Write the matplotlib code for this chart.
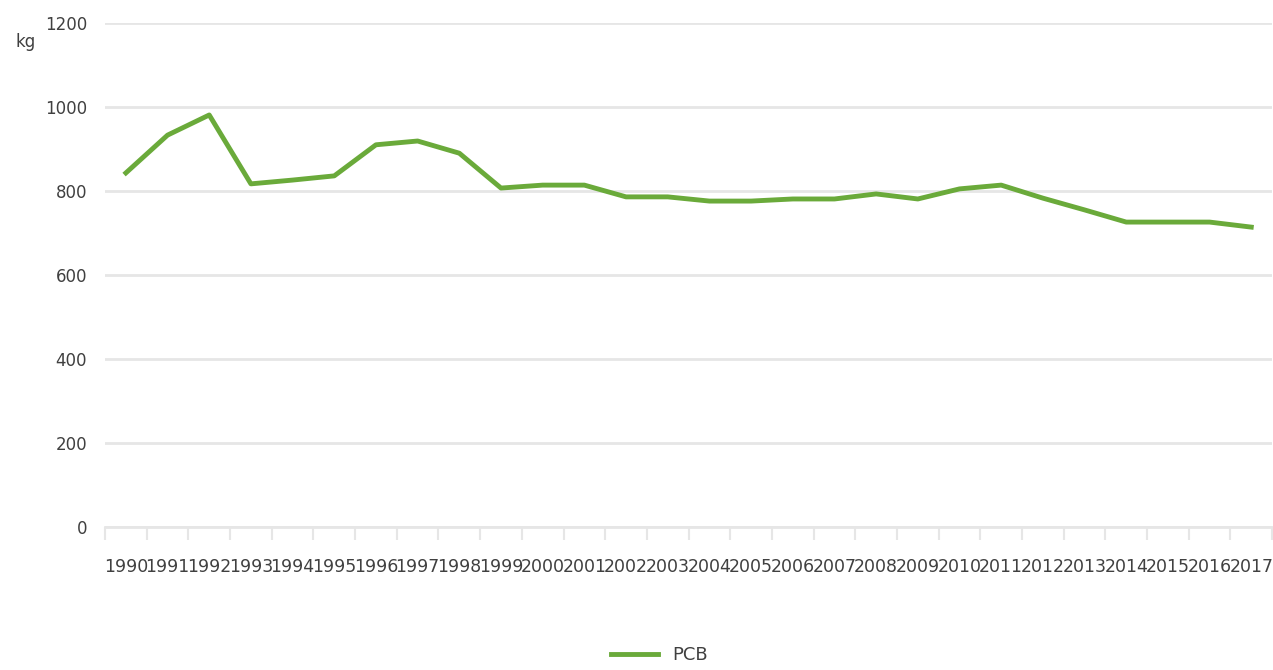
import matplotlib
matplotlib.use("Agg")
import matplotlib.pyplot as plt
from matplotlib.ticker import FixedLocator, NullFormatter

# PCB emissions, kg
years = [str(y) for y in range(1990, 2018)]
pcb = [843, 933, 981, 817, 826, 836, 910, 919, 890, 807,
       814, 814, 786, 786, 776, 776, 781, 781, 793, 781,
       805, 814, 783, 755, 726, 726, 726, 714]
y_ticks = [0, 200, 400, 600, 800, 1000, 1200]

GREEN = "#6aaa3a"
GRID = "#e6e6e6"
TEXT = "#404040"

plt.rcParams["font.family"] = ["DejaVu Sans"]

fig = plt.figure(figsize=(12.73, 6.70), dpi=100)
ax = fig.add_axes([0.0825, 0.2134, 0.9168, 0.7523])

x = list(range(len(years)))
line, = ax.plot(x, pcb, color=GREEN, lw=3.5, label="PCB", solid_joinstyle="round")

ax.set_xlim(-0.5, len(years) - 0.5)
ax.set_ylim(0, 1200)
ax.set_yticks(y_ticks)
ax.set_yticklabels([str(v) for v in y_ticks], fontsize=12, color=TEXT)
ax.set_xticks(x)
ax.set_xticklabels(years, fontsize=12.5, color=TEXT)
ax.tick_params(axis="x", which="major", length=0, pad=22)
ax.tick_params(axis="y", length=0, pad=13)

# small tick marks between the categories
ax.xaxis.set_minor_locator(FixedLocator([i - 0.5 for i in range(len(years) + 1)]))
ax.xaxis.set_minor_formatter(NullFormatter())
ax.tick_params(axis="x", which="minor", length=9, width=1.5, color=GRID)

ax.grid(axis="y", color=GRID, lw=2)
ax.set_axisbelow(True)
for side in ["top", "right", "left"]:
    ax.spines[side].set_visible(False)
ax.spines["bottom"].set_color(GRID)
ax.spines["bottom"].set_linewidth(2)

fig.text(0.012, 0.937, "kg", fontsize=12, color=TEXT, ha="left", va="center")

fig.legend(handles=[line], loc="center", bbox_to_anchor=(0.518, 0.022),
           frameon=False, fontsize=13, handlelength=2.6,
           labelcolor=TEXT)

fig.savefig("out.png", dpi=100, facecolor="white")
